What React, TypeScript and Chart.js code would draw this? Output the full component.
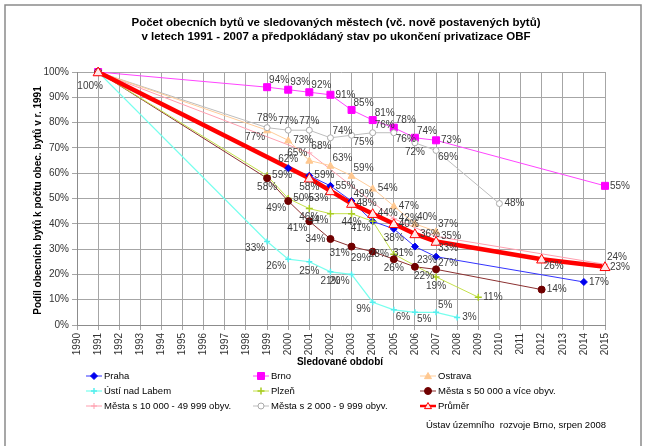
import React, { useEffect, useRef } from 'react';
import { Chart, registerables } from 'chart.js';

Chart.register(...registerables);

// ---------- DATA ----------
const titleLines = [
  'Počet obecních bytů ve sledovaných městech (vč. nově postavených bytů)',
  'v letech 1991 - 2007 a předpokládaný stav po ukončení privatizace OBF',
];
const yAxisTitle = 'Podíl obecních bytů k počtu obec. bytů v r. 1991';
const xAxisTitle = 'Sledované období';
const creditText = 'Ústav územního  rozvoje Brno, srpen 2008';

const yearMin = 1990;
const yearMax = 2015;
const valueMin = 0;
const valueMax = 100;

const seriesNames = [
  'Praha',
  'Brno',
  'Ostrava',
  'Ústí nad Labem',
  'Plzeň',
  'Města s 50 000 a více obyv.',
  'Města s 10 000 - 49 999 obyv.',
  'Města s 2 000 - 9 999 obyv.',
  'Průměr',
];

const prahaYears = [1991, 2000, 2001, 2002, 2003, 2004, 2005, 2006, 2007, 2014];
const prahaValues = [100, 62, 59, 55, 49, 41, 38, 31, 27, 17];

const brnoYears = [1991, 1999, 2000, 2001, 2002, 2003, 2004, 2005, 2006, 2007, 2015];
const brnoValues = [100, 94, 93, 92, 91, 85, 81, 78, 74, 73, 55];

const ostravaYears = [1991, 1999, 2000, 2001, 2002, 2003, 2004, 2005, 2006, 2007];
const ostravaValues = [100, 77, 73, 65, 63, 59, 54, 47, 40, 37];

const ustiYears = [1991, 1999, 2000, 2001, 2002, 2003, 2004, 2005, 2006, 2007, 2008];
const ustiValues = [100, 33, 26, 25, 21, 20, 9, 6, 5, 5, 3];

const plzenYears = [1991, 1999, 2000, 2001, 2002, 2003, 2004, 2005, 2007, 2009];
const plzenValues = [100, 59, 50, 46, 44, 44, 41, 28, 19, 11];

const mesta50Years = [1991, 1999, 2000, 2001, 2002, 2003, 2004, 2005, 2006, 2007, 2012];
const mesta50Values = [100, 58, 49, 41, 34, 31, 29, 26, 23, 22, 14];

const mesta10Years = [1991, 2001, 2005, 2007, 2015];
const mesta10Values = [100, 68, 42, 35, 24];

const mesta2Years = [1991, 1999, 2000, 2001, 2002, 2003, 2004, 2005, 2006, 2007, 2010];
const mesta2Values = [100, 78, 77, 77, 74, 75, 76, 76, 72, 69, 48];

const prumerYears = [1991, 2001, 2002, 2003, 2004, 2005, 2006, 2007, 2012, 2015];
const prumerValues = [100, 58, 53, 48, 44, 40, 36, 33, 26, 23];

// ---------- LABEL PLACEMENT (style only) ----------
const prahaLabelPos = ['', 'a', 'r', 'r', 'ar', 'bl', 'b', 'bl', 'br', 'r'];
const brnoLabelPos = ['', 'ar', 'ar', 'ar', 'r', 'ar', 'ar', 'ar', 'ar', 'r', 'r'];
const ostravaLabelPos = ['', 'bl', 'r', 'al', 'ar', 'ar', 'r', 'r', 'ar', 'ar'];
const ustiLabelPos = ['', 'bl', 'bl', 'b', 'b', 'bl', 'bl', 'br', 'br', 'ar', 'r'];
const plzenLabelPos = ['', 'r', 'r', 'b', 'bl', 'b', '', 'l', 'b', 'r'];
const mesta50LabelPos = ['', 'b', 'bl', 'bl', 'l', 'bl', 'bl', 'b', 'ar', 'bl', 'r'];
const mesta10LabelPos = ['', 'ar', 'r', 'r', 'ar'];
const mesta2LabelPos = ['', 'a', 'a', 'a', 'ar', 'br', 'ar', 'br', 'b', 'br', 'r'];
const prumerLabelPos = ['b2', 'b', 'bl', 'r', 'r', 'r', 'r', 'br', 'br', 'r'];

type Style = {
  line: string;
  lineWidth: number;
  marker: string;
  fill: string;
  stroke: string;
  radius: number;
  markerWidth: number;
};

const styles: Style[] = [
  { line: '#3333FF', lineWidth: 1, marker: 'rectRot', fill: '#0000EE', stroke: '#0000EE', radius: 3.5, markerWidth: 1 },
  { line: '#FF44FF', lineWidth: 1, marker: 'rect', fill: '#FF00FF', stroke: '#FF00FF', radius: 3.5, markerWidth: 1 },
  { line: '#FFCC99', lineWidth: 1, marker: 'triangle', fill: '#FFC890', stroke: '#FFC890', radius: 3.5, markerWidth: 1 },
  { line: '#77FFEE', lineWidth: 1.2, marker: 'cross', fill: '#55EEEE', stroke: '#55EEEE', radius: 3, markerWidth: 1.5 },
  { line: '#C4E04A', lineWidth: 1, marker: 'cross', fill: '#A8CC20', stroke: '#A8CC20', radius: 3.5, markerWidth: 1.5 },
  { line: '#8B3030', lineWidth: 1, marker: 'circle', fill: '#700000', stroke: '#700000', radius: 3.5, markerWidth: 1 },
  { line: '#FF9FAF', lineWidth: 1, marker: 'cross', fill: '#FF9FAF', stroke: '#FF9FAF', radius: 3, markerWidth: 1 },
  { line: '#BDBDBD', lineWidth: 1, marker: 'circle', fill: '#FFFFFF', stroke: '#AAAAAA', radius: 3, markerWidth: 1 },
  { line: '#FF0000', lineWidth: 4.5, marker: 'triangle', fill: '#FFE8E8', stroke: '#FF0000', radius: 5, markerWidth: 1 },
];

const allYears = [prahaYears, brnoYears, ostravaYears, ustiYears, plzenYears, mesta50Years, mesta10Years, mesta2Years, prumerYears];
const allValues = [prahaValues, brnoValues, ostravaValues, ustiValues, plzenValues, mesta50Values, mesta10Values, mesta2Values, prumerValues];
const allLabelPos = [prahaLabelPos, brnoLabelPos, ostravaLabelPos, ustiLabelPos, plzenLabelPos, mesta50LabelPos, mesta10LabelPos, mesta2LabelPos, prumerLabelPos];
const drawOrder = [2, 3, 4, 5, 6, 7, 8, 9, 0];

const FONT = '"Liberation Sans", Arial, sans-serif';
const NARROW = '"Liberation Sans Narrow", "Arial Narrow", "Liberation Sans", Arial, sans-serif';

function drawMarker(ctx: CanvasRenderingContext2D, s: Style, x: number, y: number) {
  const r = s.radius;
  ctx.save();
  ctx.fillStyle = s.fill;
  ctx.strokeStyle = s.stroke;
  ctx.lineWidth = s.markerWidth;
  ctx.beginPath();
  if (s.marker === 'rect') {
    ctx.rect(x - r, y - r, 2 * r, 2 * r);
    ctx.fill();
    ctx.stroke();
  } else if (s.marker === 'rectRot') {
    ctx.moveTo(x, y - r);
    ctx.lineTo(x + r, y);
    ctx.lineTo(x, y + r);
    ctx.lineTo(x - r, y);
    ctx.closePath();
    ctx.fill();
    ctx.stroke();
  } else if (s.marker === 'triangle') {
    ctx.moveTo(x, y - r);
    ctx.lineTo(x + r, y + r * 0.75);
    ctx.lineTo(x - r, y + r * 0.75);
    ctx.closePath();
    ctx.fill();
    ctx.stroke();
  } else if (s.marker === 'cross') {
    ctx.moveTo(x - r, y);
    ctx.lineTo(x + r, y);
    ctx.moveTo(x, y - r);
    ctx.lineTo(x, y + r);
    ctx.stroke();
  } else {
    ctx.arc(x, y, r, 0, Math.PI * 2);
    ctx.fill();
    ctx.stroke();
  }
  ctx.restore();
}

function drawLabel(ctx: CanvasRenderingContext2D, x: number, y: number, text: string, pos: string) {
  let tx = x;
  let ty = y;
  let align: CanvasTextAlign = 'center';
  let base: CanvasTextBaseline = 'middle';
  switch (pos) {
    case 'r': tx = x + 5; align = 'left'; break;
    case 'l': tx = x - 5; align = 'right'; break;
    case 'a': ty = y - 4; base = 'bottom'; break;
    case 'b': ty = y + 4; base = 'top'; break;
    case 'b2': tx = x - 8; ty = y + 9; base = 'top'; break;
    case 'ar': tx = x + 2; ty = y - 2; align = 'left'; base = 'bottom'; break;
    case 'al': tx = x - 2; ty = y - 2; align = 'right'; base = 'bottom'; break;
    case 'br': tx = x + 2; ty = y + 2; align = 'left'; base = 'top'; break;
    case 'bl': tx = x - 2; ty = y + 2; align = 'right'; base = 'top'; break;
    default: return;
  }
  ctx.textAlign = align;
  ctx.textBaseline = base;
  ctx.fillText(text, tx, ty);
}

const customPlugin = {
  id: 'customDecor',
  afterDatasetsDraw(chart: any) {
    const ctx: CanvasRenderingContext2D = chart.ctx;
    chart.data.datasets.forEach((ds: any, di: number) => {
      const meta = chart.getDatasetMeta(di);
      const s = styles[di];
      meta.data.forEach((el: any) => drawMarker(ctx, s, el.x, el.y));
    });
    ctx.save();
    ctx.font = `10px ${FONT}`;
    ctx.fillStyle = '#3c3c3c';
    chart.data.datasets.forEach((ds: any, di: number) => {
      const meta = chart.getDatasetMeta(di);
      const pos = allLabelPos[di];
      meta.data.forEach((el: any, i: number) => {
        const v = allValues[di][i];
        drawLabel(ctx, el.x, el.y, `${v}%`, pos[i]);
      });
    });
    ctx.restore();
  },
  afterDraw(chart: any) {
    const ctx: CanvasRenderingContext2D = chart.ctx;
    const area = chart.chartArea;
    ctx.save();
    // frame
    ctx.strokeStyle = '#8a8a8a';
    ctx.lineWidth = 1.5;
    ctx.beginPath();
    ctx.moveTo(5, 446);
    ctx.lineTo(5, 5);
    ctx.lineTo(641, 5);
    ctx.lineTo(641, 446);
    ctx.stroke();
    // title
    ctx.fillStyle = '#000';
    ctx.font = `bold 11.5px ${FONT}`;
    ctx.textAlign = 'center';
    ctx.textBaseline = 'middle';
    ctx.fillText(titleLines[0], 336, 23);
    ctx.fillText(titleLines[1], 336, 37);
    // y title
    ctx.save();
    ctx.translate(38, (area.top + area.bottom) / 2 + 2);
    ctx.rotate(-Math.PI / 2);
    ctx.font = `bold 10px ${FONT}`;
    ctx.fillText(yAxisTitle, 0, 0);
    ctx.restore();
    // x title
    ctx.font = `bold 10px ${FONT}`;
    ctx.fillText(xAxisTitle, 340, 362);
    // legend
    const colX = [86, 253, 420];
    const rowY = [376, 391, 406];
    ctx.font = `9.5px ${NARROW}`;
    seriesNames.forEach((name, i) => {
      const cx = colX[i % 3];
      const cy = rowY[Math.floor(i / 3)];
      const s = styles[i];
      ctx.strokeStyle = s.line;
      ctx.lineWidth = Math.min(s.lineWidth, 2.5);
      ctx.beginPath();
      ctx.moveTo(cx, cy);
      ctx.lineTo(cx + 16, cy);
      ctx.stroke();
      drawMarker(ctx, { ...s, radius: Math.min(s.radius, 3.5) }, cx + 8, cy);
      ctx.fillStyle = '#000';
      ctx.textAlign = 'left';
      ctx.textBaseline = 'middle';
      ctx.fillText(name, cx + 18, cy);
    });
    // credit
    ctx.textAlign = 'right';
    ctx.fillText(creditText, 606, 425);
    ctx.restore();
  },
};

export default function App() {
  const ref = useRef<HTMLCanvasElement | null>(null);
  useEffect(() => {
    if (!ref.current) return;
    const datasets = allYears.map((years, di) => ({
      label: seriesNames[di],
      data: years.map((x, i) => ({ x, y: allValues[di][i] })),
      borderColor: styles[di].line,
      borderWidth: styles[di].lineWidth,
      backgroundColor: styles[di].line,
      pointRadius: 0,
      pointHoverRadius: 0,
      tension: 0,
      fill: false,
      order: drawOrder[di],
    }));
    const chart = new Chart(ref.current, {
      type: 'line',
      data: { datasets },
      options: {
        animation: false,
        responsive: false,
        maintainAspectRatio: false,
        layout: { padding: { left: 14, right: 41, top: 72, bottom: 76 } },
        plugins: {
          legend: { display: false },
          title: { display: false },
          tooltip: { enabled: false },
        },
        scales: {
          x: {
            type: 'linear',
            min: yearMin,
            max: yearMax,
            afterFit: (scale: any) => { scale.height = 45; },
            ticks: {
              stepSize: 1,
              autoSkip: false,
              maxRotation: 90,
              minRotation: 90,
              padding: 3,
              color: '#333',
              font: { family: FONT, size: 10 },
              callback: (v: any) => String(v),
            },
            grid: { color: '#a6a6a6', lineWidth: 1, tickLength: 5, drawTicks: true },
            border: { color: '#8c8c8c', width: 1 },
          },
          y: {
            type: 'linear',
            min: valueMin,
            max: valueMax,
            afterFit: (scale: any) => { scale.width = 63; },
            ticks: {
              stepSize: 10,
              padding: 3,
              color: '#333',
              font: { family: FONT, size: 10 },
              callback: (v: any) => `${v}%`,
            },
            grid: { color: '#a6a6a6', lineWidth: 1, tickLength: 5, drawTicks: true },
            border: { color: '#8c8c8c', width: 1 },
          },
        },
      },
      plugins: [customPlugin],
    });
    return () => chart.destroy();
  }, []);
  return (
    <div style={{ position: 'fixed', left: 0, top: 0, width: 646, height: 446, background: '#fff' }}>
      <canvas ref={ref} width={646} height={446} style={{ display: 'block' }} />
    </div>
  );
}
